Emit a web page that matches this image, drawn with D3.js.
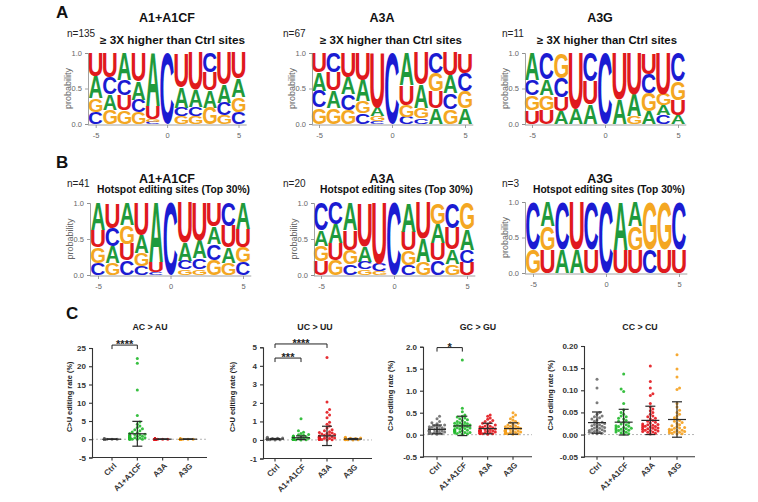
<!DOCTYPE html>
<html><head><meta charset="utf-8">
<script src="https://cdn.jsdelivr.net/npm/d3@7"></script>
<style>body{margin:0;background:#fff}svg{display:block}</style>
</head><body>
<svg id="c" width="758" height="502"></svg>
<script>
// ---------------- DATA ----------------
const positions = [-5,-4,-3,-2,-1,0,1,2,3,4,5];
const logoTicksX = [-5,0,5];
const logoTicksY = [0,0.5,1];

// Panel A : >= 3X higher than Ctrl sites
const logoA1 = [
  {U:.33,A:.31,G:.19,C:.17},{U:.34,C:.24,A:.22,G:.20},{A:.38,C:.22,U:.21,G:.19},
  {U:.40,A:.26,C:.18,G:.16},{A:.74,U:.19,G:.04,C:.03},{C:1},
  {U:.48,A:.29,C:.12,G:.11},{U:.52,A:.24,C:.13,G:.11},{C:.27,U:.26,A:.24,G:.23},
  {U:.45,A:.25,C:.18,G:.12},{U:.36,A:.26,G:.21,C:.17}];
const logoA2 = [
  {U:.27,A:.26,C:.24,G:.23},{C:.27,U:.26,A:.24,G:.23},{U:.35,A:.23,C:.22,G:.20},
  {U:.38,A:.30,G:.17,C:.15},{U:.77,A:.12,G:.07,C:.04},{C:1},
  {A:.45,U:.28,G:.17,C:.10},{U:.45,A:.32,G:.15,C:.08},{C:.29,G:.25,U:.24,A:.22},
  {U:.32,A:.25,C:.22,G:.21},{U:.28,C:.26,G:.24,A:.22}];
const logoA3 = [
  {A:.38,C:.22,G:.21,U:.19},{C:.37,A:.22,G:.21,U:.20},{G:.35,C:.27,U:.20,A:.18},
  {U:.78,A:.22},{C:.40,U:.32,A:.28},{C:1},
  {U:.66,A:.34},{U:.58,A:.31,G:.11},{U:.30,C:.27,G:.25,A:.18},
  {U:.58,G:.16,A:.14,C:.12},{C:.40,G:.26,U:.21,A:.13}];
// Panel B : hotspot editing sites (top 30%)
const logoB1 = [
  {A:.38,U:.24,G:.22,C:.16},{U:.35,C:.25,A:.24,G:.16},{A:.31,G:.26,U:.23,C:.20},
  {U:.45,A:.25,G:.18,C:.12},{A:.82,U:.14,C:.04},{C:1},
  {U:.55,A:.25,C:.12,G:.08},{U:.52,A:.25,C:.15,G:.08},{U:.33,A:.24,C:.22,G:.21},
  {C:.32,U:.30,A:.22,G:.16},{A:.36,U:.25,G:.21,C:.18}];
const logoB2 = [
  {C:.38,A:.22,G:.21,U:.19},{C:.30,A:.26,U:.23,G:.21},{A:.38,U:.27,G:.20,C:.15},
  {U:.60,A:.22,C:.10,G:.08},{U:.85,C:.10,G:.05},{C:1},
  {A:.40,U:.26,G:.20,C:.14},{U:.50,A:.32,G:.18},{G:.30,A:.26,U:.24,C:.20},
  {C:.35,U:.30,A:.20,G:.15},{G:.37,A:.28,C:.18,U:.17}];
const logoB3 = [
  {C:.67,G:.33},{A:.34,G:.335,U:.325},{C:.67,A:.33},
  {U:.67,A:.33},{C:.67,U:.33},{C:1},
  {A:.67,U:.33},{A:.34,G:.335,U:.325},{G:.67,C:.33},
  {G:.67,U:.33},{C:.67,U:.33}];

const logoTitles = ["A1+A1CF","A3A","A3G"];
const nLabelsA = ["n=135","n=67","n=11"];
const nLabelsB = ["n=41","n=20","n=3"];
const subtitleA = "\u2265 3X higher than Ctrl sites";
const subtitleB = "Hotspot editing sites (Top 30%)";

// Panel C
const groups = ["Ctrl","A1+A1CF","A3A","A3G"];
const groupColors = ["#6e6e6e","#22b92c","#e3181e","#f5a01d"];
const plotTitles = ["AC > AU","UC > UU","GC > GU","CC > CU"];
const yLabel = "C>U editing rate (%)";

const acCtrl = [0,0,0,0,0,0,0,0,0,0,0,0,0,0,0,0,0,0,0.01,0.01,0.02,0.02,0.03,0.04,0.05,0.06,0.08,0.1,0.12,0.15];
const acA1 = [22.1,20.8,13.5,6.5,4.7,4.1,3.6,3.2,2.9,2.6,2.3,2.0,1.8,1.6,1.4,1.3,1.2,1.1,1.0,0.9,0.85,0.8,0.75,0.7,0.65,0.6,0.55,0.5,0.5,0.45,0.4,0.4,0.35,0.3,0.3,0.25,0.2,0.2,0.15,0.1,0.1,0.05,0.05,0,0,0];
const acA3A = [0,0,0,0,0,0,0,0,0,0,0,0,0,0,0,0,0,0,0,0,0.01,0.01,0.02,0.02,0.03,0.04,0.05,0.06,0.08,0.1,0.12];
const acA3G = [0,0,0,0,0,0,0,0,0,0,0,0,0,0,0,0,0,0,0,0.01,0.01,0.02,0.02,0.03,0.04,0.05,0.07,0.09,0.11];
const acMean = [0.02,1.5,0.02,0.02];
const acSD = [0.04,3.4,0.04,0.04];

const ucCtrl = [0.15,0.12,0.1,0.09,0.08,0.07,0.07,0.06,0.06,0.05,0.05,0.05,0.04,0.04,0.04,0.03,0.03,0.03,0.02,0.02,0.02,0.01,0.01,0.01,0];
const ucA1 = [1.15,0.5,0.42,0.35,0.3,0.28,0.25,0.22,0.2,0.18,0.17,0.15,0.14,0.13,0.12,0.11,0.1,0.1,0.09,0.08,0.08,0.07,0.07,0.06,0.06,0.05,0.05,0.04,0.04,0.03,0.03,0.02,0.02,0.01,0.01,0];
const ucA3A = [4.45,2.05,1.65,1.5,1.35,1.2,0.95,0.85,0.75,0.65,0.55,0.5,0.45,0.4,0.38,0.35,0.32,0.3,0.28,0.25,0.22,0.2,0.18,0.16,0.15,0.13,0.12,0.1,0.1,0.09,0.08,0.07,0.06,0.05,0.05,0.04,0.03,0.02,0.01,0];
const ucA3G = [0.15,0.12,0.1,0.09,0.08,0.07,0.06,0.06,0.05,0.05,0.04,0.04,0.03,0.03,0.03,0.02,0.02,0.02,0.01,0.01,0.01,0];
const ucMean = [0.05,0.12,0.22,0.05];
const ucSD = [0.03,0.1,0.52,0.03];

const gcCtrl = [0.42,0.36,0.3,0.27,0.25,0.22,0.2,0.19,0.18,0.17,0.16,0.15,0.14,0.13,0.12,0.12,0.11,0.1,0.1,0.09,0.09,0.08,0.08,0.07,0.07,0.06,0.06,0.05,0.05,0.04,0.04,0.03,0.03,0.02,0.02,0.01];
const gcA1 = [1.7,0.6,0.52,0.45,0.42,0.4,0.38,0.36,0.34,0.32,0.3,0.28,0.27,0.26,0.25,0.24,0.23,0.22,0.21,0.2,0.19,0.18,0.17,0.16,0.15,0.14,0.13,0.12,0.11,0.1,0.1,0.09,0.08,0.07,0.06,0.05,0.05,0.04,0.03,0.02,0.01];
const gcA3A = [0.45,0.42,0.38,0.35,0.32,0.3,0.28,0.26,0.24,0.22,0.2,0.19,0.18,0.17,0.16,0.15,0.14,0.13,0.12,0.12,0.11,0.1,0.1,0.09,0.09,0.08,0.08,0.07,0.07,0.06,0.06,0.05,0.05,0.04,0.04,0.03,0.03,0.02,0.02,0.01];
const gcA3G = [0.5,0.45,0.4,0.36,0.33,0.3,0.28,0.26,0.24,0.22,0.2,0.19,0.18,0.17,0.16,0.15,0.14,0.13,0.12,0.11,0.1,0.1,0.09,0.09,0.08,0.08,0.07,0.07,0.06,0.06,0.05,0.05,0.04,0.04,0.03,0.03,0.02,0.02,0.01];
const gcMean = [0.12,0.2,0.14,0.14];
const gcSD = [0.1,0.22,0.12,0.13];

const ccCtrl = [0.125,0.105,0.072,0.05,0.046,0.042,0.04,0.038,0.035,0.033,0.03,0.028,0.026,0.025,0.023,0.022,0.02,0.019,0.018,0.016,0.015,0.014,0.012,0.011,0.01,0.009,0.008,0.007,0.006,0.005,0.004,0.003,0.002];
const ccA1 = [0.137,0.103,0.097,0.07,0.056,0.05,0.046,0.042,0.04,0.037,0.035,0.032,0.03,0.028,0.026,0.024,0.022,0.02,0.019,0.018,0.016,0.015,0.014,0.013,0.012,0.011,0.01,0.009,0.008,0.006,0.005,0.004,0.002,0.001];
const ccA3A = [0.155,0.12,0.105,0.092,0.088,0.07,0.062,0.058,0.054,0.05,0.046,0.042,0.04,0.037,0.035,0.032,0.03,0.028,0.026,0.024,0.023,0.022,0.021,0.02,0.019,0.018,0.017,0.016,0.015,0.014,0.013,0.012,0.011,0.01,0.009,0.008,0.007,0.006,0.005,0.003,0.001];
const ccA3G = [0.18,0.148,0.13,0.105,0.102,0.07,0.062,0.055,0.05,0.046,0.042,0.038,0.035,0.032,0.03,0.027,0.025,0.022,0.02,0.018,0.016,0.015,0.014,0.012,0.011,0.01,0.009,0.008,0.007,0.006,0.005,0.004,0.003,0.002,0.001];
const ccMean = [0.027,0.028,0.032,0.034];
const ccSD = [0.024,0.029,0.032,0.04];

const yTicksAC = [-5,0,5,10,15,20,25];
const yTicksUC = [-1,0,1,2,3,4,5];
const yTicksGC = [-0.5,0,0.5,1,1.5,2];
const yTicksCC = [-0.05,0,0.05,0.1,0.15,0.2];

// significance: [group1, group2, level (data units), label]
const sigAC = [["Ctrl","A1+A1CF",25.8,"****"]];
const sigUC = [["Ctrl","A3A",5.18,"****"],["Ctrl","A1+A1CF",4.42,"***"]];
const sigGC = [["Ctrl","A1+A1CF",1.98,"*"]];
const sigCC = [];

// ---------------- DRAWING ----------------
const FONT = "'Liberation Sans', Arial, Helvetica, sans-serif";
const svg = d3.select('#c');
const logoColors = {A:'#1f9a3c', C:'#1b1bd2', G:'#f4a722', U:'#e0191d'};

const cv = document.createElement('canvas');
const ctx = cv.getContext('2d');
ctx.font = `bold 100px ${FONT}`;
const met = {};
['A','C','G','U'].forEach(L => {
  const m = ctx.measureText(L);
  met[L] = {l:m.actualBoundingBoxLeft, r:m.actualBoundingBoxRight, a:m.actualBoundingBoxAscent, d:m.actualBoundingBoxDescent};
});

function drawLogo(data, f) {
  const g = svg.append('g');
  const x = d3.scaleLinear().domain([-5,5]).range([f.c0, f.c1]);
  const colW = (f.c1 - f.c0) / 10;
  const y = d3.scaleLinear().domain([0,1]).range([f.yBot, f.yTop]);
  data.forEach((col, i) => {
    const pos = positions[i];
    const entries = Object.entries(col).sort((a,b) => a[1]-b[1]);
    let acc = 0;
    entries.forEach(([L,p]) => {
      const yb = y(acc), yt = y(acc+p); acc += p;
      const h = yb - yt;
      if (h < 0.4) return;
      const w = colW * 0.95, x0 = x(pos) - w/2;
      const m = met[L];
      const sx = w / (m.l + m.r), sy = h / (m.a + m.d);
      g.append('text')
        .attr('transform', `translate(${x0},${yt}) scale(${sx},${sy}) translate(${m.l},${m.a})`)
        .attr('font-family', FONT).attr('font-weight','bold').attr('font-size',100)
        .attr('fill', logoColors[L]).text(L);
    });
  });
  const axCol = '#8a8a8a';
  const ya = g.append('g').attr('transform', `translate(${f.axisX},0)`)
    .call(d3.axisLeft(y).tickValues(logoTicksY).tickFormat(d3.format('.1f')).tickSize(3));
  const xa = g.append('g').attr('transform', `translate(0,${f.yBot+1})`)
    .call(d3.axisBottom(x).tickValues(logoTicksX).tickFormat(d => d<0 ? '-'+Math.abs(d) : String(d)).tickSize(3));
  xa.select('.domain').remove();
  g.append('line').attr('x1', f.axisX).attr('x2', f.c1 + colW/2 + 1)
    .attr('y1', f.yBot+1).attr('y2', f.yBot+1).attr('stroke', axCol).attr('stroke-width',0.8);
  [ya, xa].forEach(a => {
    a.selectAll('path,line').attr('stroke', axCol).attr('stroke-width',0.8);
    a.selectAll('text').attr('font-family', FONT).attr('font-size', 7.5).attr('fill','#666');
  });
  xa.selectAll('text').attr('dy','0.9em');
  g.append('text').attr('transform', `translate(${f.axisX-17},${(f.yTop+f.yBot)/2}) rotate(-90)`)
    .attr('text-anchor','middle').attr('font-family',FONT).attr('font-size',9).attr('fill','#666')
    .text('probability');
}

// panel letters
[["A",56,18],["B",56,168],["C",66,319]].forEach(([t,x,y]) =>
  svg.append('text').attr('x',x).attr('y',y).attr('font-family',FONT).attr('font-weight','bold')
    .attr('font-size',17).attr('fill','#111').text(t));

const titleX = [167, 382, 600];
const nX = [67, 283, 502];
const subXA = [100, 320, 537];
const subLenA = [145, 142, 140];
const subXB = [97, 320, 533];
const subLenB = [153, 153, 152];
logoTitles.forEach((t,i) => {
  svg.append('text').attr('x',titleX[i]).attr('y',22).attr('text-anchor','middle')
    .attr('font-family',FONT).attr('font-weight','bold').attr('font-size',12.5).attr('fill','#111').text(t);
  svg.append('text').attr('x',titleX[i]).attr('y',183).attr('text-anchor','middle')
    .attr('font-family',FONT).attr('font-weight','bold').attr('font-size',12.5).attr('fill','#111').text(t);
  svg.append('text').attr('x',nX[i]).attr('y',37).attr('font-family',FONT).attr('font-size',10).attr('fill','#222').text(nLabelsA[i]);
  svg.append('text').attr('x',nX[i]).attr('y',187).attr('font-family',FONT).attr('font-size',10).attr('fill','#222').text(nLabelsB[i]);
  svg.append('text').attr('x',subXA[i]).attr('y',44).attr('font-family',FONT).attr('font-weight','bold')
    .attr('font-size',10.5).attr('textLength',subLenA[i]).attr('lengthAdjust','spacingAndGlyphs').attr('fill','#111').text(subtitleA);
  svg.append('text').attr('x',subXB[i]).attr('y',193).attr('font-family',FONT).attr('font-weight','bold')
    .attr('font-size',10).attr('textLength',subLenB[i]).attr('lengthAdjust','spacingAndGlyphs').attr('fill','#111').text(subtitleB);
});

drawLogo(logoA1, {c0:95.7, c1:238.5, yTop:53, yBot:124, axisX:88});
drawLogo(logoA2, {c0:319, c1:465, yTop:53, yBot:124, axisX:312});
drawLogo(logoA3, {c0:532, c1:678, yTop:53, yBot:124, axisX:525});
drawLogo(logoB1, {c0:98, c1:243, yTop:203, yBot:275, axisX:90});
drawLogo(logoB2, {c0:321, c1:467, yTop:203, yBot:275, axisX:314});
drawLogo(logoB3, {c0:533, c1:679, yTop:202, yBot:273, axisX:525});

// ---- beeswarm layout ----
function swarm(ys, r, maxOff) {
  const idx = ys.map((v,i) => i).sort((a,b) => ys[b]-ys[a]);
  const placed = [];
  const xs = new Array(ys.length);
  const step = r * 1.7;
  const nSteps = Math.floor(maxOff / step);
  const minD = 2 * r * 0.95;
  idx.forEach((i,k) => {
    const yy = ys[i];
    let chosen = null;
    outer: for (let s = 0; s <= nSteps; s++) {
      const cands = s === 0 ? [0] : (k % 2 ? [s*step, -s*step] : [-s*step, s*step]);
      for (const off of cands) {
        if (placed.every(q => (q.x-off)**2 + (q.y-yy)**2 >= minD*minD)) { chosen = off; break outer; }
      }
    }
    if (chosen === null) chosen = (((k*7) % (2*nSteps+1)) - nSteps) * step;
    placed.push({x:chosen, y:yy});
    xs[i] = chosen;
  });
  return xs;
}

function drawScatter(p) {
  const g = svg.append('g');
  const y = d3.scaleLinear().domain(p.domain).range([p.yBot, p.yTop]);
  const x = d3.scalePoint().domain(groups).range([p.x0, p.x1]);
  const axCol = '#333';
  g.append('line').attr('x1', p.axisX).attr('x2', p.xEnd).attr('y1', y(0)).attr('y2', y(0))
    .attr('stroke', '#b5b5b5').attr('stroke-width', 1).attr('stroke-dasharray', '2,2');
  groups.forEach((grp, gi) => {
    const vals = p.values[gi];
    const ys = vals.map(v => y(v));
    const xs = swarm(ys, 1.5, 10);
    g.append('g').selectAll('circle').data(vals).join('circle')
      .attr('cx', (d,i) => x(grp) + xs[i]).attr('cy', d => y(d)).attr('r', 1.5)
      .attr('fill', groupColors[gi]).attr('fill-opacity', 0.9);
  });
  groups.forEach((grp, gi) => {
    const cx = x(grp), m = p.mean[gi], s = p.sd[gi];
    const eg = g.append('g').attr('stroke', '#2a2a2a').attr('stroke-width', 1.2);
    eg.append('line').attr('x1', cx-9).attr('x2', cx+9).attr('y1', y(m)).attr('y2', y(m));
    eg.append('line').attr('x1', cx).attr('x2', cx).attr('y1', y(m-s)).attr('y2', y(m+s));
    eg.append('line').attr('x1', cx-5).attr('x2', cx+5).attr('y1', y(m+s)).attr('y2', y(m+s));
    eg.append('line').attr('x1', cx-5).attr('x2', cx+5).attr('y1', y(m-s)).attr('y2', y(m-s));
  });
  // axes
  const ya = g.append('g').attr('transform', `translate(${p.axisX},0)`)
    .call(d3.axisLeft(y).tickValues(p.ticks).tickFormat(p.fmt).tickSize(3));
  ya.selectAll('path,line').attr('stroke', axCol).attr('stroke-width', 1.1);
  ya.selectAll('text').attr('font-family', FONT).attr('font-weight', 'bold').attr('font-size', 8).attr('fill', '#333');
  g.append('line').attr('x1', p.axisX).attr('x2', p.xEnd).attr('y1', p.yBot).attr('y2', p.yBot)
    .attr('stroke', axCol).attr('stroke-width', 1.1);
  groups.forEach(grp => {
    g.append('line').attr('x1', x(grp)).attr('x2', x(grp)).attr('y1', p.yBot).attr('y2', p.yBot+3)
      .attr('stroke', axCol).attr('stroke-width', 1.1);
    g.append('text').attr('transform', `translate(${x(grp)+3},${p.yBot+7}) rotate(-45)`)
      .attr('text-anchor', 'end').attr('font-family', FONT).attr('font-weight', 'bold')
      .attr('font-size', 8).attr('fill', '#333').attr('dy', '0.35em').text(grp);
  });
  g.append('text').attr('transform', `translate(${p.labelX},${(p.yTop+p.yBot)/2 - 6}) rotate(-90)`)
    .attr('text-anchor', 'middle').attr('font-family', FONT).attr('font-weight', 'bold')
    .attr('font-size', 7.4).attr('fill', '#222').text(yLabel);
  g.append('text').attr('x', p.titleX).attr('y', 330).attr('text-anchor', 'middle')
    .attr('font-family', FONT).attr('font-weight', 'bold').attr('font-size', 8.8).attr('fill', '#222').text(p.title);
  p.sig.forEach(([a, b, lvl, lab]) => {
    const yy = y(lvl), xa = x(a), xb = x(b);
    g.append('path').attr('d', `M${xa},${yy+4}V${yy}H${xb}V${yy+4}`).attr('fill', 'none')
      .attr('stroke', '#222').attr('stroke-width', 1);
    g.append('text').attr('x', (xa+xb)/2).attr('y', yy + 3).attr('text-anchor', 'middle')
      .attr('font-family', FONT).attr('font-weight', 'bold').attr('font-size', 11).attr('fill', '#222').text(lab);
  });
}

drawScatter({values:[acCtrl,acA1,acA3A,acA3G], mean:acMean, sd:acSD, domain:[-5,25], ticks:yTicksAC,
  fmt:d => String(d), yTop:348, yBot:457.5, axisX:92, xEnd:207, x0:112, x1:188, labelX:72, titleX:150,
  title:plotTitles[0], sig:sigAC});
drawScatter({values:[ucCtrl,ucA1,ucA3A,ucA3G], mean:ucMean, sd:ucSD, domain:[-1,5], ticks:yTicksUC,
  fmt:d => String(d), yTop:347.3, yBot:458.5, axisX:263, xEnd:372, x0:275, x1:353, labelX:235, titleX:315,
  title:plotTitles[1], sig:sigUC});
drawScatter({values:[gcCtrl,gcA1,gcA3A,gcA3G], mean:gcMean, sd:gcSD, domain:[-0.5,2], ticks:yTicksGC,
  fmt:d => d.toFixed(1), yTop:346.7, yBot:456.7, axisX:423, xEnd:532, x0:437, x1:513, labelX:393, titleX:478,
  title:plotTitles[2], sig:sigGC});
drawScatter({values:[ccCtrl,ccA1,ccA3A,ccA3G], mean:ccMean, sd:ccSD, domain:[-0.05,0.2], ticks:yTicksCC,
  fmt:d => d.toFixed(2), yTop:346, yBot:456.7, axisX:584, xEnd:695, x0:597, x1:677, labelX:553, titleX:640,
  title:plotTitles[3], sig:sigCC});
</script>
</body></html>
